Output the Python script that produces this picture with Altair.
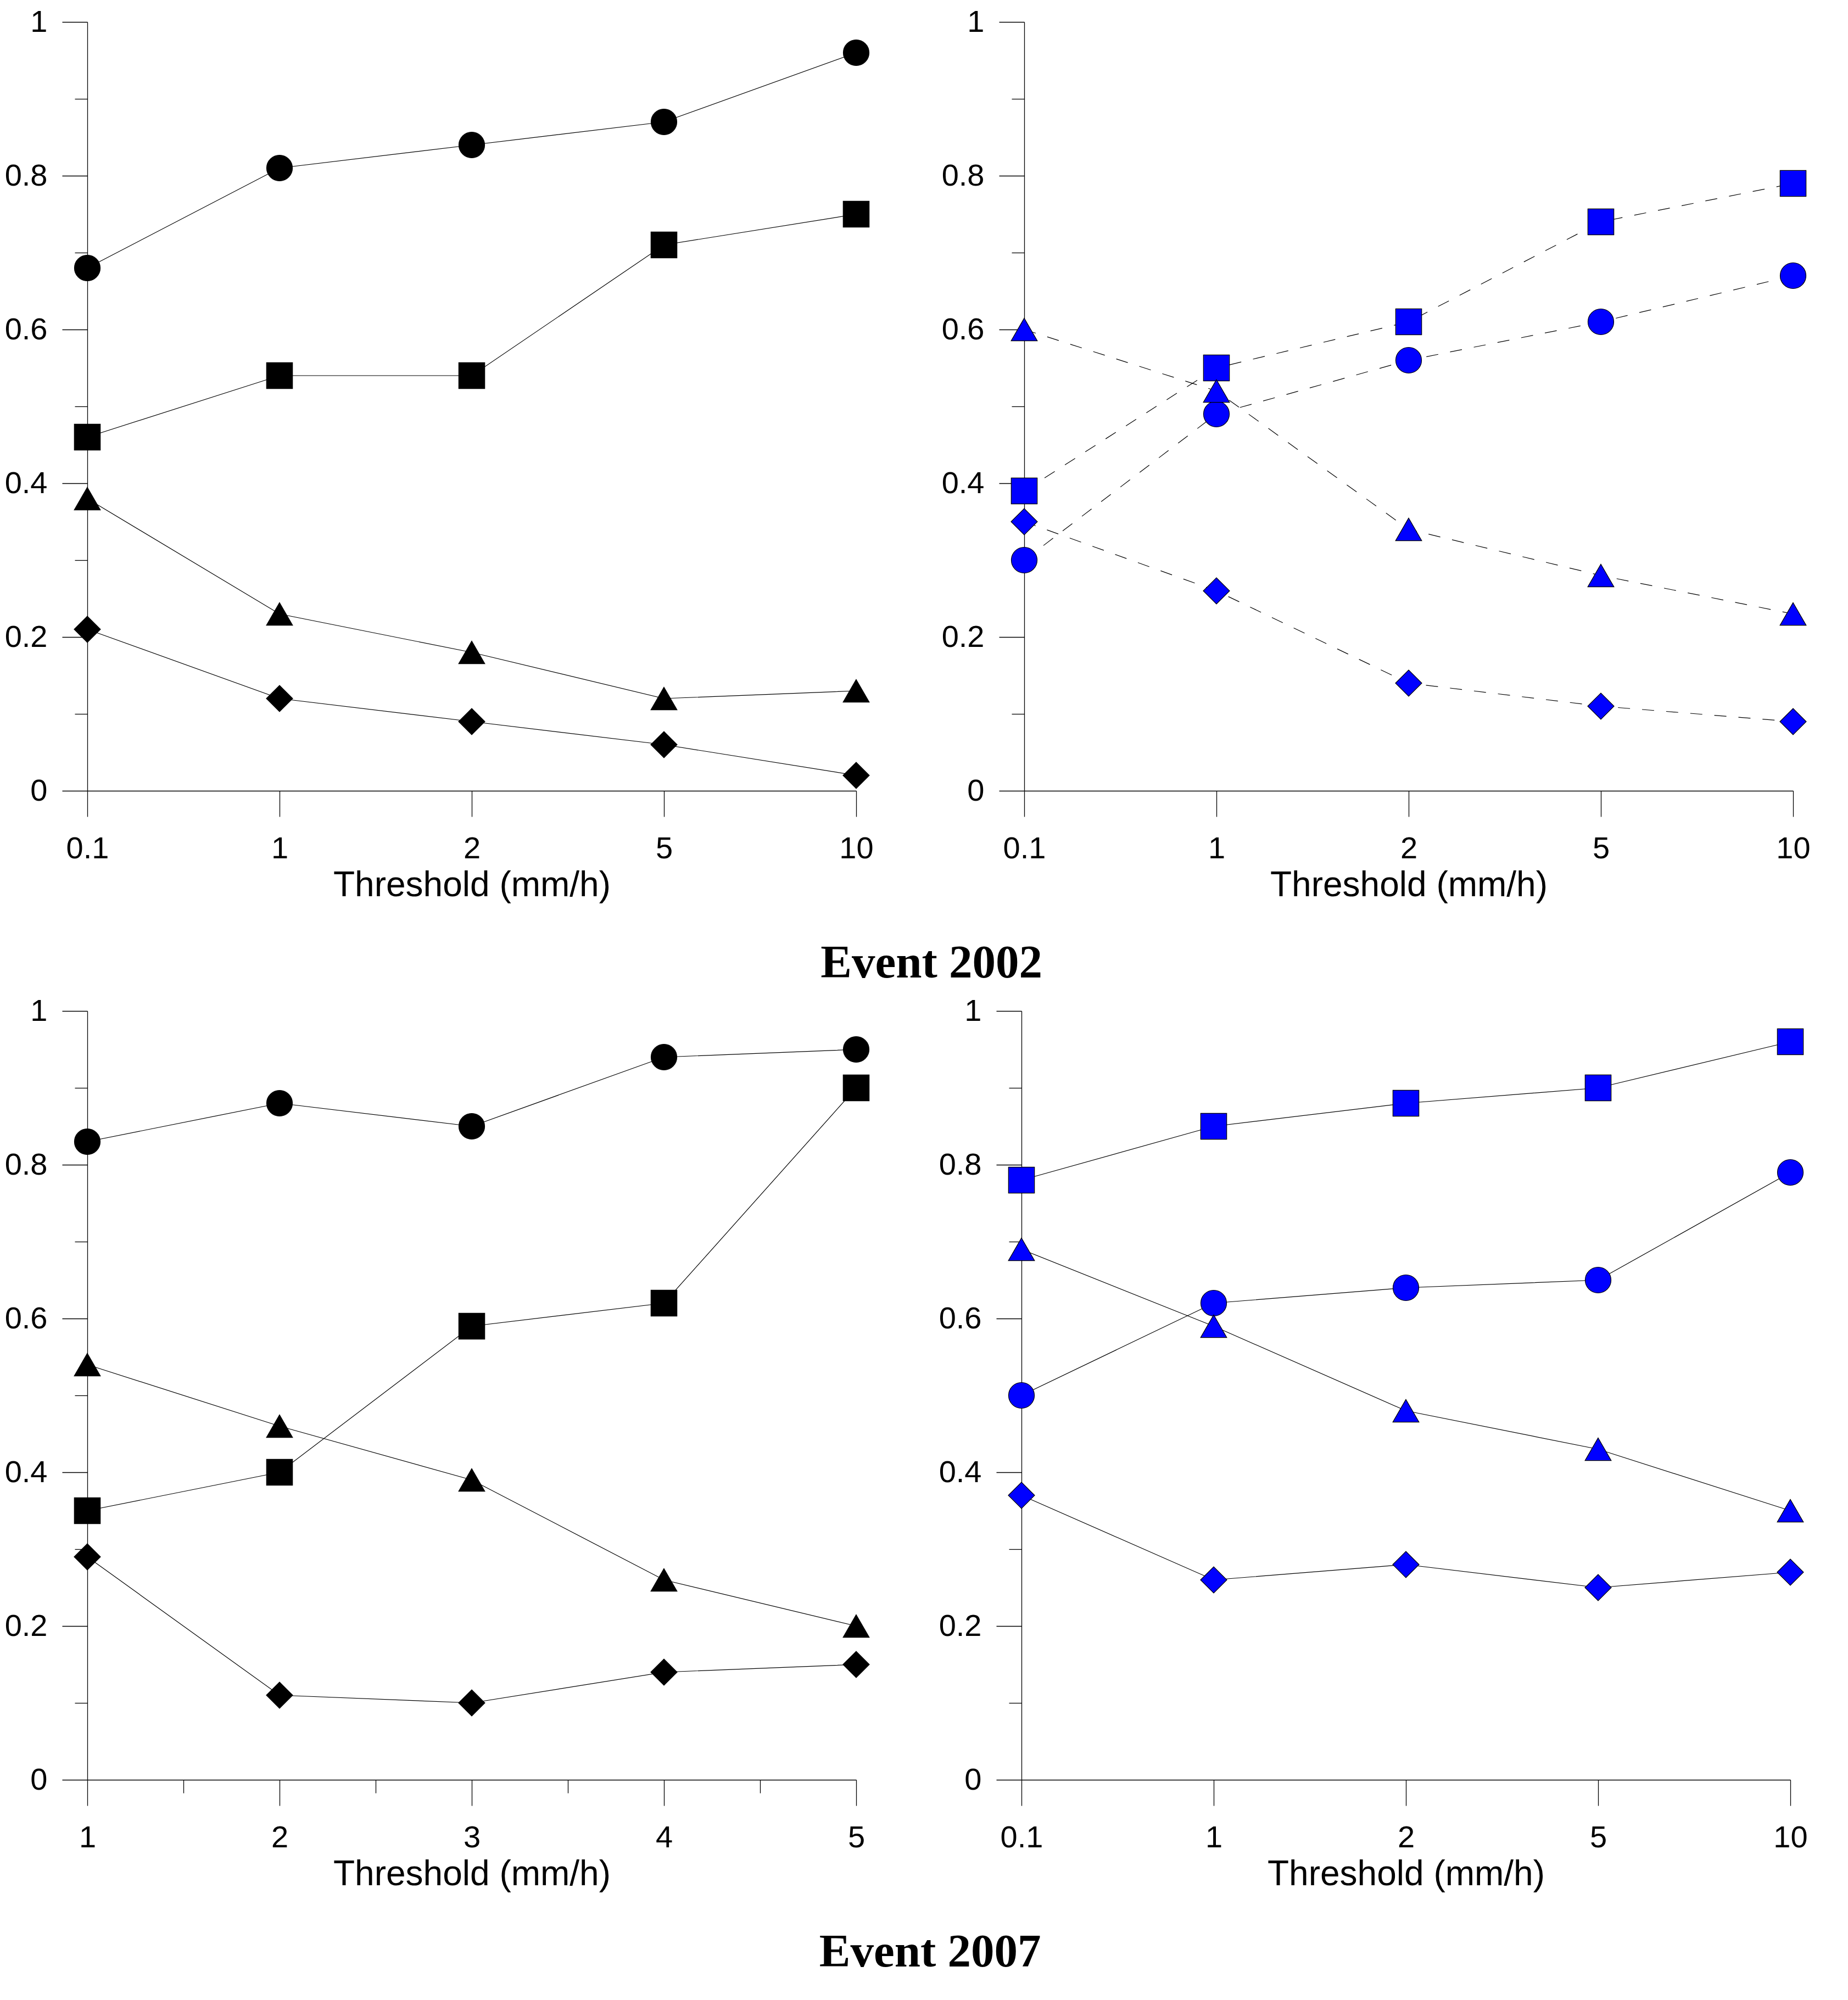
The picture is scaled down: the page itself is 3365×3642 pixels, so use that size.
import altair as alt
import pandas as pd

# ---------------- data ----------------
SERIES = ["circle", "square", "triangle", "diamond"]
SHAPE_RANGE = ["circle", "square", "triangle-up", "diamond"]
SIZE_RANGE = [2209, 2304, 1849, 2500]

thresholds_log = ["0.1", "1", "2", "5", "10"]
thresholds_lin = [1, 2, 3, 4, 5]

y_major_ticks = [0, 0.2, 0.4, 0.6, 0.8, 1]
y_minor_ticks = [0.1, 0.3, 0.5, 0.7, 0.9]
x_minor_ticks = [1.5, 2.5, 3.5, 4.5]

# Event 2002, left panel (black, solid)
e02_left_circle = [0.68, 0.81, 0.84, 0.87, 0.96]
e02_left_square = [0.46, 0.54, 0.54, 0.71, 0.75]
e02_left_triangle = [0.38, 0.23, 0.18, 0.12, 0.13]
e02_left_diamond = [0.21, 0.12, 0.09, 0.06, 0.02]

# Event 2002, right panel (blue, dashed)
e02_right_circle = [0.30, 0.49, 0.56, 0.61, 0.67]
e02_right_square = [0.39, 0.55, 0.61, 0.74, 0.79]
e02_right_triangle = [0.60, 0.52, 0.34, 0.28, 0.23]
e02_right_diamond = [0.35, 0.26, 0.14, 0.11, 0.09]

# Event 2007, left panel (black, solid)
e07_left_circle = [0.83, 0.88, 0.85, 0.94, 0.95]
e07_left_square = [0.35, 0.40, 0.59, 0.62, 0.90]
e07_left_triangle = [0.54, 0.46, 0.39, 0.26, 0.20]
e07_left_diamond = [0.29, 0.11, 0.10, 0.14, 0.15]

# Event 2007, right panel (blue, solid)
e07_right_circle = [0.50, 0.62, 0.64, 0.65, 0.79]
e07_right_square = [0.78, 0.85, 0.88, 0.90, 0.96]
e07_right_triangle = [0.69, 0.59, 0.48, 0.43, 0.35]
e07_right_diamond = [0.37, 0.26, 0.28, 0.25, 0.27]


def make_df(xs, lists):
    rows = []
    for name, vals in zip(SERIES, lists):
        for i, (x, v) in enumerate(zip(xs, vals)):
            rows.append({"x": x, "y": v, "s": name, "i": i})
    return pd.DataFrame(rows)


AX = dict(
    domainColor="black", tickColor="black", domainWidth=1.3, tickWidth=1.3,
    labelColor="black", labelFont="Liberation Sans", labelFontSize=56,
    titleColor="black", titleFont="Liberation Sans", titleFontSize=64,
    titleFontWeight="normal", grid=False, labelOverlap=False, labelFlush=False,
)

W = 1400
H = 1400


def panel(df, fill, dash, discrete):
    if discrete:
        xscale = alt.Scale(type="point", domain=thresholds_log, padding=0)
        x_major = alt.X("x:O", scale=xscale, sort=thresholds_log,
                        axis=alt.Axis(title="Threshold (mm/h)", labelAngle=0, tickSize=47,
                                      labelPadding=31, titlePadding=7, **AX))
        x_minor = alt.X("x:O", scale=xscale, sort=thresholds_log, axis=None)
    else:
        xscale = alt.Scale(domain=[1, 5], nice=False, zero=False)
        x_major = alt.X("x:Q", scale=xscale,
                        axis=alt.Axis(title="Threshold (mm/h)", values=thresholds_lin, format="d",
                                      labelAngle=0, tickSize=47, labelPadding=31,
                                      titlePadding=7, **AX))
        x_minor = alt.X("x:Q", scale=xscale,
                        axis=alt.Axis(values=x_minor_ticks, tickSize=24, labels=False,
                                      domain=False, title=None, orient="bottom",
                                      tickColor="black", tickWidth=1.3, grid=False))
    yscale = alt.Scale(domain=[0, 1], nice=False, zero=True)
    y_major = alt.Y("y:Q", scale=yscale,
                    axis=alt.Axis(values=y_major_ticks, format="~g", tickSize=46,
                                  labelPadding=27, title=None, orient="left", **AX))
    y_minor = alt.Y("y:Q", scale=yscale,
                    axis=alt.Axis(values=y_minor_ticks, tickSize=23, labels=False,
                                  domain=False, title=None, orient="left",
                                  tickColor="black", tickWidth=1.3, grid=False))
    line_kw = dict(color="black", strokeWidth=1.2)
    if dash:
        line_kw["strokeDash"] = dash
    line = alt.Chart(df).mark_line(**line_kw).encode(
        x=x_major, y=y_major, detail="s:N", order="i:Q")
    pts = alt.Chart(df).mark_point(
        filled=True, fill=fill, stroke="black", strokeWidth=1.2, opacity=1, fillOpacity=1
    ).encode(
        x=x_minor, y=y_minor,
        shape=alt.Shape("s:N", scale=alt.Scale(domain=SERIES, range=SHAPE_RANGE), legend=None),
        size=alt.Size("s:N", scale=alt.Scale(domain=SERIES, range=SIZE_RANGE), legend=None),
    )
    return alt.layer(line, pts).resolve_axis(x="independent", y="independent").properties(
        width=W, height=H)


tl = panel(make_df(thresholds_log, [e02_left_circle, e02_left_square, e02_left_triangle, e02_left_diamond]),
           "black", None, True)
tr = panel(make_df(thresholds_log, [e02_right_circle, e02_right_square, e02_right_triangle, e02_right_diamond]),
           "#0000FF", [22, 22], True)
bl = panel(make_df(thresholds_lin, [e07_left_circle, e07_left_square, e07_left_triangle, e07_left_diamond]),
           "black", None, False)
br = panel(make_df(thresholds_log, [e07_right_circle, e07_right_square, e07_right_triangle, e07_right_diamond]),
           "#0000FF", None, True)


def row_title(text):
    return alt.TitleParams(text=text, orient="bottom", anchor="middle", font="Liberation Serif",
                           fontSize=85, fontWeight="bold", color="black", offset=69, dx=44)


row1 = alt.hconcat(tl, tr, spacing=123).properties(title=row_title("Event 2002"))
row2 = alt.hconcat(bl, br, spacing=123).properties(title=row_title("Event 2007"))

chart = alt.vconcat(row1, row2, spacing=16).properties(
    padding={"top": 4, "left": 0, "right": 0, "bottom": 0},
    background="white",
).configure_view(stroke="transparent", strokeWidth=0)

chart.save("out.html", embed_options={"renderer": "svg", "actions": False})
